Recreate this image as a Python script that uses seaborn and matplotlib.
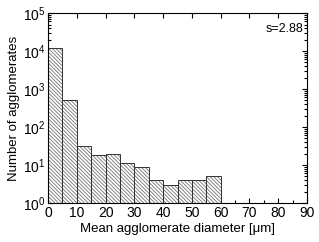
import matplotlib
matplotlib.use("Agg")
import matplotlib.pyplot as plt
import matplotlib.ticker as mticker
import numpy as np
import seaborn as sns

# histogram bins (um) and counts
bin_edges = [0, 5, 10, 15, 20, 25, 30, 35, 40, 45, 50, 55, 60]
counts = [12200, 530, 31, 18, 19, 11, 8.7, 4, 3, 4, 4, 5]
bin_centers = [(a + b) / 2 for a, b in zip(bin_edges[:-1], bin_edges[1:])]

sns.set_style("ticks")
plt.rcParams['font.family'] = ['Liberation Sans', 'DejaVu Sans']
plt.rcParams['mathtext.fontset'] = 'custom'
plt.rcParams['mathtext.rm'] = 'Liberation Sans'
plt.rcParams['mathtext.it'] = 'Liberation Sans'
plt.rcParams['font.size'] = 9
plt.rcParams['text.color'] = 'black'
plt.rcParams['axes.labelcolor'] = 'black'
plt.rcParams['hatch.linewidth'] = 0.6
plt.rcParams['hatch.color'] = '0.45'

fig = plt.figure(figsize=(3.19, 2.42), dpi=100)
ax = fig.add_axes([0.1505, 0.161, 0.812, 0.785])

# hatched fill
sns.histplot(x=bin_centers, weights=counts, bins=bin_edges, ax=ax,
             color='white', edgecolor='0.45', linewidth=0, alpha=1,
             hatch='\\' * 9)
# outlines
sns.histplot(x=bin_centers, weights=counts, bins=bin_edges, ax=ax,
             fill=False, color='0.2', linewidth=0.7, element='bars')

ax.set_yscale('log')
ax.set_ylim(1, 1e5)
ax.set_xlim(0, 90)
ax.set_xticks(range(0, 91, 10))
ax.xaxis.set_minor_locator(mticker.MultipleLocator(5))
ax.yaxis.set_major_locator(mticker.LogLocator(base=10, numticks=10))
ax.yaxis.set_minor_locator(mticker.LogLocator(base=10, subs=np.arange(2, 10), numticks=20))
ax.yaxis.set_minor_formatter(mticker.NullFormatter())

ax.tick_params(which='both', direction='in', top=True, right=True, width=0.8, colors='black', labelsize=10, pad=2)
ax.tick_params(which='major', length=3.5)
ax.tick_params(which='minor', length=2)
ax.tick_params(axis='x', which='minor', top=False)
for s in ax.spines.values():
    s.set_linewidth(0.8)
    s.set_color('black')

ax.set_xlabel('Mean agglomerate diameter [\u03bcm]', fontsize=9.5, labelpad=2)
ax.set_ylabel('Number of agglomerates', fontsize=9.5, labelpad=2)
ax.text(0.985, 0.95, 's=2.88', transform=ax.transAxes, ha='right', va='top', fontsize=9)

fig.savefig('out.png', dpi=100)
